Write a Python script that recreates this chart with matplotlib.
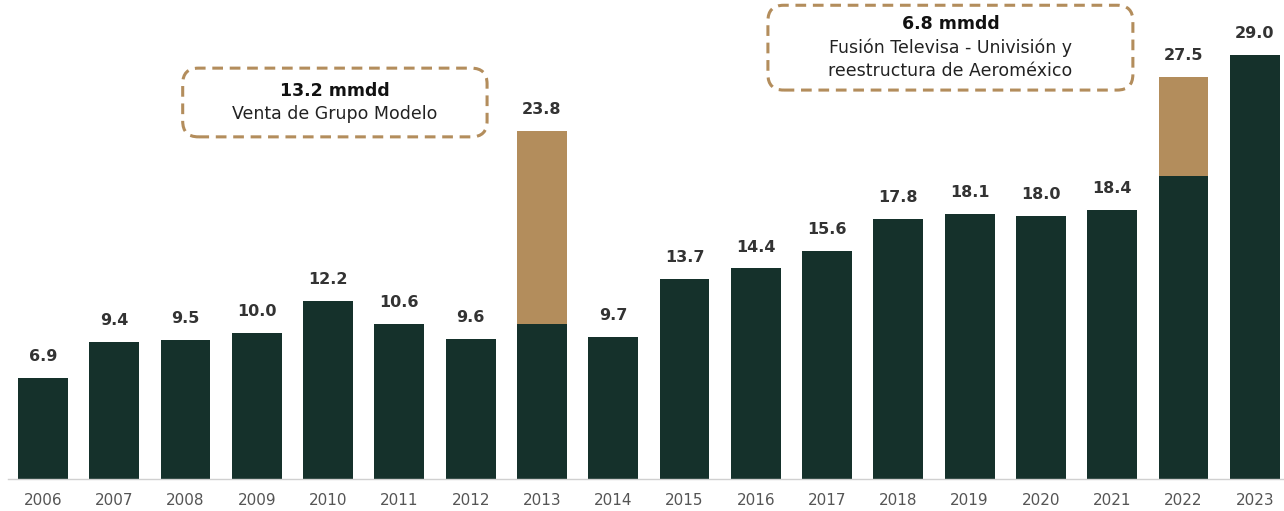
import matplotlib
matplotlib.use('Agg')
import matplotlib.pyplot as plt
from matplotlib.patches import FancyBboxPatch
import numpy as np

# data
years = [str(y) for y in range(2006, 2024)]
base_values = [6.9, 9.4, 9.5, 10.0, 12.2, 10.6, 9.6, 10.6, 9.7, 13.7,
               14.4, 15.6, 17.8, 18.1, 18.0, 18.4, 20.7, 29.0]
extra_values = [0, 0, 0, 0, 0, 0, 0, 13.2, 0, 0,
                0, 0, 0, 0, 0, 0, 6.8, 0]
extra_notes = {
    7: ["13.2 mmdd", "Venta de Grupo Modelo"],
    16: ["6.8 mmdd", "Fusión Televisa - Univisión y", "reestructura de Aeroméxico"],
}

DARK = '#15312b'
TAN = '#b38d5c'
plt.rcParams['font.family'] = ['DejaVu Sans']

fig = plt.figure(figsize=(12.84, 5.11), dpi=100)
ax = fig.add_axes([0, 32 / 511, 1, 479 / 511])

x = np.arange(len(years))
base = np.array(base_values)
extra = np.array(extra_values)
total = base + extra

ax.bar(x, base, width=0.70, color=DARK, zorder=2)
ax.bar(x, extra, width=0.70, bottom=base, color=TAN, zorder=2)

for xi, t in zip(x, total):
    ax.annotate(f"{t:.1f}", (xi, t), xytext=(0, 10), textcoords='offset points',
                ha='center', va='bottom', fontsize=11.5, fontweight='bold',
                color='#333333')

ax.set_xlim(-0.603, 17.41)
ax.set_ylim(0, 32.76)
ax.set_xticks(x)
ax.set_xticklabels(years, fontsize=11, color='#555555')
ax.tick_params(axis='x', length=0, pad=10)
ax.set_yticks([])
for s in ['top', 'right', 'left']:
    ax.spines[s].set_visible(False)
ax.spines['bottom'].set_color('#d0d0d0')
ax.spines['bottom'].set_linewidth(1)
ax.spines['bottom'].set_bounds(-0.49, 17.41)

# annotation boxes (px -> data: x step 71.3, y 14.62 per unit)
aspect = 71.3 / 14.62
boxes = {7: (1.96, 23.4, 6.23, 28.1), 16: (10.17, 26.6, 15.29, 32.4)}
step = 1.6
for idx, (x0, y0, x1, y1) in boxes.items():
    box = FancyBboxPatch((x0, y0), x1 - x0, y1 - y0,
                         boxstyle="round,pad=0,rounding_size=0.22",
                         mutation_aspect=aspect, fill=False,
                         edgecolor=TAN, linewidth=2.2,
                         linestyle=(0, (3.5, 2.2)), zorder=3)
    ax.add_patch(box)
    lines = extra_notes[idx]
    cx = (x0 + x1) / 2
    cy = (y0 + y1) / 2
    first = cy + step * (len(lines) - 1) / 2
    for k, line in enumerate(lines):
        ax.text(cx, first - k * step, line, ha='center', va='center',
                fontsize=12.5,
                fontweight='bold' if k == 0 else 'normal',
                color='#111111' if k == 0 else '#222222')

fig.savefig('out.png', dpi=100)
